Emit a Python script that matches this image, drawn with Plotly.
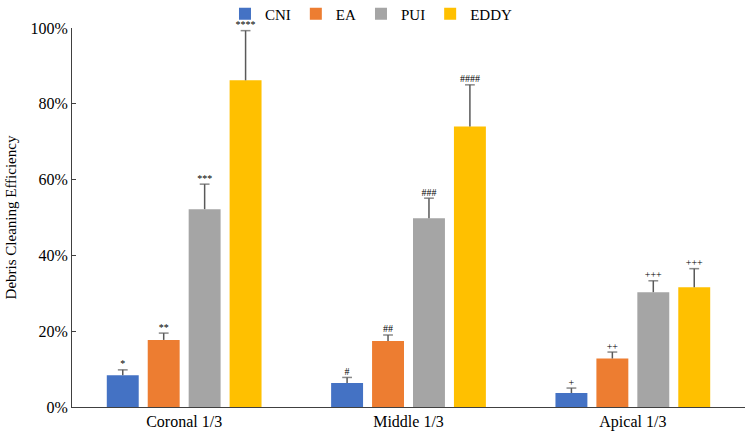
import plotly.graph_objects as go

categories = ["Coronal 1/3", "Middle 1/3", "Apical 1/3"]
series = ["CNI", "EA", "PUI", "EDDY"]
colors = ["#4472C4", "#ED7D31", "#A5A5A5", "#FFC000"]

cni = [0.084, 0.063, 0.037]
ea = [0.177, 0.174, 0.128]
pui = [0.522, 0.498, 0.303]
eddy = [0.862, 0.740, 0.316]

cni_err = [0.014, 0.015, 0.013]
ea_err = [0.018, 0.016, 0.017]
pui_err = [0.066, 0.053, 0.030]
eddy_err = [0.131, 0.110, 0.049]

cni_sig = ["*", "#", "+"]
ea_sig = ["**", "##", "++"]
pui_sig = ["***", "###", "+++"]
eddy_sig = ["****", "####", "+++"]

values = [cni, ea, pui, eddy]
errors = [cni_err, ea_err, pui_err, eddy_err]
sigs = [cni_sig, ea_sig, pui_sig, eddy_sig]

FONT = "Liberation Serif, Times New Roman, serif"
ERR_COLOR = "#595959"

fig = go.Figure()
for i, name in enumerate(series):
    fig.add_trace(go.Bar(
        x=categories, y=values[i], name=name,
        marker=dict(color=colors[i], line=dict(width=0)),
        offsetgroup=str(i), hoverinfo="y",
    ))

# one-sided (upper) error bars with a cap only at the top
for i, name in enumerate(series):
    xs, ys, sizes = [], [], []
    for c, v, e in zip(categories, values[i], errors[i]):
        xs += [c, c, None]
        ys += [v, v + e, None]
        sizes += [0, 7, 0]
    fig.add_trace(go.Scatter(
        x=xs, y=ys, mode="lines+markers", connectgaps=False,
        line=dict(color=ERR_COLOR, width=1.5),
        marker=dict(symbol="line-ew", size=sizes, color=ERR_COLOR,
                    line=dict(color=ERR_COLOR, width=1.5)),
        offsetgroup=str(i), showlegend=False, hoverinfo="skip", cliponaxis=False,
    ))

for i, name in enumerate(series):
    fig.add_trace(go.Scatter(
        x=categories,
        y=[v + e for v, e in zip(values[i], errors[i])],
        mode="text", text=sigs[i], textposition="top center",
        textfont=dict(family=FONT, size=10, color="#000000"),
        offsetgroup=str(i), showlegend=False, hoverinfo="skip", cliponaxis=False,
    ))

fig.update_layout(
    width=750, height=436,
    margin=dict(l=72, r=5, t=28, b=29, autoexpand=False),
    paper_bgcolor="white", plot_bgcolor="white",
    barmode="group", scattermode="group",
    bargap=0.27, bargroupgap=0.22, scattergap=0.27,
    font=dict(family=FONT, size=16, color="#000000"),
    legend=dict(orientation="h", x=0.445, xanchor="center", y=1.037, yanchor="middle",
                font=dict(family=FONT, size=15), itemwidth=30, traceorder="normal",
                bgcolor="rgba(0,0,0,0)"),
    showlegend=True,
)
fig.update_xaxes(showline=True, linecolor="#404040", linewidth=1, ticks="",
                 tickfont=dict(family=FONT, size=16), showgrid=False)
fig.update_yaxes(range=[0, 1.0], tickvals=[0, 0.2, 0.4, 0.6, 0.8, 1.0], tickformat=".0%",
                 showline=True, linecolor="#404040", linewidth=1, ticks="inside",
                 ticklen=4, tickcolor="#404040", showgrid=False, zeroline=False,
                 tickfont=dict(family=FONT, size=16),
                 title=dict(text="Debris Cleaning Efficiency", font=dict(family=FONT, size=15),
                            standoff=10))

fig.write_html("out.html")
